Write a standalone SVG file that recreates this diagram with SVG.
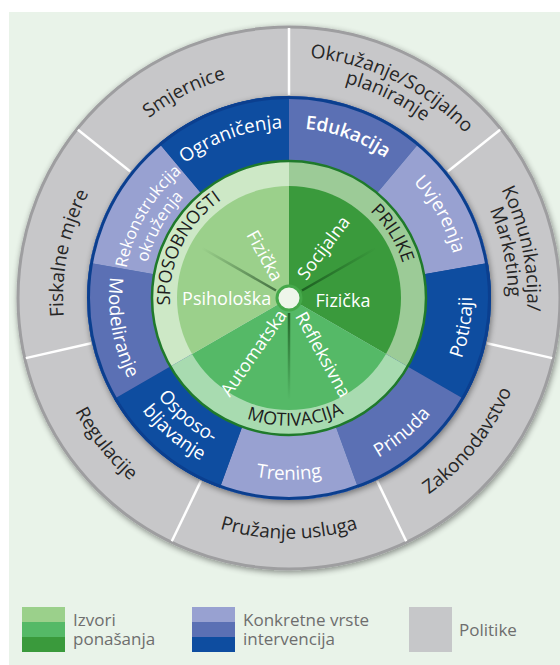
<svg xmlns="http://www.w3.org/2000/svg" width="560" height="665" viewBox="0 0 560 665">
<style>
text{font-family:"Open Sans","Liberation Sans",sans-serif;}
.pol{font-size:19px;fill:#262626;}
.int{font-size:18.8px;fill:#ffffff;}
.int-sm{font-size:16.5px;fill:#ffffff;}
.band{font-size:18px;fill:#1c1c1c;}
.src{font-size:18px;fill:#ffffff;}
.leg{font-size:17px;fill:#6e6e6e;}
.sep{stroke:#ffffff;stroke-width:2.5;}
.dk{fill:#0e4da0;}
.md{fill:#5b70b4;}
.lt{fill:#98a1d1;}
</style>
<defs>
<filter id="sh" x="-10%" y="-10%" width="120%" height="120%">
<feGaussianBlur in="SourceAlpha" stdDeviation="3"/>
<feOffset dx="1" dy="2"/>
<feComponentTransfer><feFuncA type="linear" slope="0.45"/></feComponentTransfer>
<feMerge><feMergeNode/><feMergeNode in="SourceGraphic"/></feMerge>
</filter>
<linearGradient id="gA" gradientUnits="userSpaceOnUse" x1="276" y1="290.5" x2="202" y2="248"><stop offset="0" stop-color="#2f5a30" stop-opacity="0.8"/><stop offset="1" stop-color="#2f5a30" stop-opacity="0"/></linearGradient>
<linearGradient id="gB" gradientUnits="userSpaceOnUse" x1="302" y1="290.5" x2="376" y2="248"><stop offset="0" stop-color="#1a5a1f" stop-opacity="0.9"/><stop offset="1" stop-color="#1a5a1f" stop-opacity="0"/></linearGradient>
<linearGradient id="gC" gradientUnits="userSpaceOnUse" x1="289" y1="313" x2="289" y2="400"><stop offset="0" stop-color="#1f5e25" stop-opacity="0.9"/><stop offset="1" stop-color="#1f5e25" stop-opacity="0"/></linearGradient>
<path id="tp-smj" d="M71.0,364.7 A228,228 0 0 1 471.1,160.8"/>
<path id="tp-okr1" d="M94.0,156.3 A241,241 0 0 1 520.7,364.4"/>
<path id="tp-okr2" d="M109.4,167.5 A222,222 0 0 1 502.4,359.2"/>
<path id="tp-kom1" d="M280.7,60.1 A238,238 0 0 1 378.2,518.7"/>
<path id="tp-kom2" d="M281.4,79.1 A219,219 0 0 1 371.0,501.1"/>
<path id="tp-zak" d="M173.6,509.6 A241,241 0 0 0 469.8,138.6"/>
<path id="tp-pru" d="M51.7,339.8 A241,241 0 0 0 526.3,339.8"/>
<path id="tp-reg" d="M107.7,137.7 A242,242 0 0 0 404.5,510.7"/>
<path id="tp-fis" d="M206.2,508.3 A226,226 0 0 1 294.9,72.1"/>
<path id="tp-ogr" d="M121.6,327.5 A170,170 0 0 1 436.2,213"/>
<path id="tp-edu" d="M141.8,213 A170,170 0 0 1 456.4,327.5"/>
<path id="tp-uvj" d="M233.6,137.3 A170,170 0 0 1 396.0,430.1"/>
<path id="tp-pot" d="M290.6,481 A183,183 0 0 0 350.1,125.5"/>
<path id="tp-pri" d="M171.4,438.2 A183,183 0 0 0 447.5,206.5"/>
<path id="tp-tre" d="M109.8,329.6 A182,182 0 0 0 468.2,329.6"/>
<path id="tp-osp1" d="M147.7,214.8 A164,164 0 0 0 393.3,424.5"/>
<path id="tp-osp2" d="M129.6,204.1 A185,185 0 0 0 406.7,440.7"/>
<path id="tp-mod" d="M227.4,128.9 A180,180 0 0 0 289,478"/>
<path id="tp-rek1" d="M182.9,424.4 A165,165 0 0 1 345.4,142.9"/>
<path id="tp-rek2" d="M197.1,411.5 A146,146 0 0 1 336.5,160.0"/>
<path id="tp-spo" d="M219.1,394.3 A119,119 0 0 1 321.8,183.6"/>
<path id="tp-pril" d="M244.4,187.7 A119,119 0 0 1 368.6,386.4"/>
<path id="tp-mot" d="M164.3,326.8 A128,128 0 0 0 416.0,313.6"/>
</defs>

<rect x="0" y="0" width="560" height="665" fill="#ffffff"/>
<rect x="9" y="12" width="551" height="653" fill="#e9f3e9"/>

<!-- policy ring -->
<g id="policies">
<circle cx="289" cy="298" r="271" fill="#c7c7c9" stroke="#9e9ea0" stroke-width="3" filter="url(#sh)"/>
</g>
<g id="connectors">
<line class="sep" x1="289" y1="95" x2="289" y2="28"/>
<line class="sep" x1="447.7" y1="171.4" x2="500.1" y2="129.7"/>
<line class="sep" x1="486.9" y1="343.2" x2="552.2" y2="358.1"/>
<line class="sep" x1="377.1" y1="480.9" x2="406.2" y2="541.3"/>
<line class="sep" x1="200.9" y1="480.9" x2="171.8" y2="541.3"/>
<line class="sep" x1="91.1" y1="343.2" x2="25.8" y2="358.1"/>
<line class="sep" x1="130.3" y1="171.4" x2="77.9" y2="129.7"/>
</g>
<g id="policy-smjernice"><text class="pol"><textPath href="#tp-smj" startOffset="50%" text-anchor="middle">Smjernice</textPath></text></g>
<g id="policy-okruzanje"><text class="pol"><textPath href="#tp-okr1" startOffset="50%" text-anchor="middle">Okružanje/Socijalno</textPath></text><text class="pol"><textPath href="#tp-okr2" startOffset="50%" text-anchor="middle">planiranje</textPath></text></g>
<g id="policy-komunikacija"><text class="pol"><textPath href="#tp-kom1" startOffset="50%" text-anchor="middle">Komunikacija/</textPath></text><text class="pol"><textPath href="#tp-kom2" startOffset="50%" text-anchor="middle">Marketing</textPath></text></g>
<g id="policy-zakonodavstvo"><text class="pol"><textPath href="#tp-zak" startOffset="50%" text-anchor="middle">Zakonodavstvo</textPath></text></g>
<g id="policy-pruzanje"><text class="pol"><textPath href="#tp-pru" startOffset="50%" text-anchor="middle">Pružanje usluga</textPath></text></g>
<g id="policy-regulacije"><text class="pol"><textPath href="#tp-reg" startOffset="50%" text-anchor="middle">Regulacije</textPath></text></g>
<g id="policy-fiskalne"><text class="pol"><textPath href="#tp-fis" startOffset="50%" text-anchor="middle">Fiskalne mjere</textPath></text></g>

<!-- intervention ring -->
<circle cx="289" cy="298" r="202" fill="#0b3f8f" filter="url(#sh)"/>
<g id="int-edukacija"><path class="md" d="M289,298 L289,96 A202,202 0 0 1 418.85,143.27 Z"/><text class="int" font-weight="600"><textPath href="#tp-edu" startOffset="50%" text-anchor="middle">Edukacija</textPath></text></g>
<g id="int-uvjerenja"><path class="lt" d="M289,298 L418.85,143.27 A202,202 0 0 1 487.93,262.93 Z"/><text class="int"><textPath href="#tp-uvj" startOffset="50%" text-anchor="middle">Uvjerenja</textPath></text></g>
<g id="int-poticaji"><path class="dk" d="M289,298 L487.93,262.93 A202,202 0 0 1 463.93,399 Z"/><text class="int"><textPath href="#tp-pot" startOffset="50%" text-anchor="middle">Poticaji</textPath></text></g>
<g id="int-prinuda"><path class="md" d="M289,298 L463.93,399 A202,202 0 0 1 358.08,487.82 Z"/><text class="int"><textPath href="#tp-pri" startOffset="50%" text-anchor="middle">Prinuda</textPath></text></g>
<g id="int-trening"><path class="lt" d="M289,298 L358.08,487.82 A202,202 0 0 1 219.92,487.82 Z"/><text class="int"><textPath href="#tp-tre" startOffset="50%" text-anchor="middle">Trening</textPath></text></g>
<g id="int-osposobljavanje"><path class="dk" d="M289,298 L219.92,487.82 A202,202 0 0 1 114.07,399 Z"/><text class="int"><textPath href="#tp-osp1" startOffset="50%" text-anchor="middle">Osposo-</textPath></text><text class="int"><textPath href="#tp-osp2" startOffset="50%" text-anchor="middle">bljavanje</textPath></text></g>
<g id="int-modeliranje"><path class="md" d="M289,298 L114.07,399 A202,202 0 0 1 90.07,262.93 Z"/><text class="int"><textPath href="#tp-mod" startOffset="50%" text-anchor="middle">Modeliranje</textPath></text></g>
<g id="int-rekonstrukcija"><path class="lt" d="M289,298 L90.07,262.93 A202,202 0 0 1 159.15,143.27 Z"/><text class="int-sm"><textPath href="#tp-rek1" startOffset="50%" text-anchor="middle">Rekonstrukcija</textPath></text><text class="int-sm"><textPath href="#tp-rek2" startOffset="50%" text-anchor="middle">okruženja</textPath></text></g>
<g id="int-ogranicenja"><path class="dk" d="M289,298 L159.15,143.27 A202,202 0 0 1 289,96 Z"/><text class="int"><textPath href="#tp-ogr" startOffset="50%" text-anchor="middle">Ograničenja</textPath></text></g>
<circle cx="289" cy="298" r="200.5" fill="none" stroke="#0b3f8f" stroke-width="3"/>

<!-- sources of behaviour -->
<g id="src-prilike">
<path fill="#9ccb97" d="M289,298 L289,161 A137,137 0 0 1 407.64,366.5 Z"/>
<path fill="#3a9a3c" d="M289,298 L289,186 A112,112 0 0 1 385.99,354 Z"/>
<text class="band"><textPath href="#tp-pril" startOffset="50%" text-anchor="middle">PRILIKE</textPath></text>
</g>
<g id="src-motivacija">
<path fill="#a8dbb0" d="M289,298 L407.64,366.5 A137,137 0 0 1 170.36,366.5 Z"/>
<path fill="#55b967" d="M289,298 L385.99,354 A112,112 0 0 1 192.01,354 Z"/>
<text class="band"><textPath href="#tp-mot" startOffset="50%" text-anchor="middle">MOTIVACIJA</textPath></text>
</g>
<g id="src-sposobnosti">
<path fill="#cde8c6" d="M289,298 L170.36,366.5 A137,137 0 0 1 289,161 Z"/>
<path fill="#9bd08b" d="M289,298 L192.01,354 A112,112 0 0 1 289,186 Z"/>
<text class="band"><textPath href="#tp-spo" startOffset="50%" text-anchor="middle">SPOSOBNOSTI</textPath></text>
</g>
<circle cx="289" cy="298" r="137" fill="none" stroke="#1f7a2b" stroke-width="2.5"/>
<g id="sub-lines">
<line x1="276" y1="290.5" x2="202" y2="248" stroke="url(#gA)" stroke-width="2.5"/>
<line x1="302" y1="290.5" x2="376" y2="248" stroke="url(#gB)" stroke-width="2.5"/>
<line x1="289" y1="313" x2="289" y2="400" stroke="url(#gC)" stroke-width="2.5"/>
</g>
<g id="src-fizicka-sposobnost"><text class="src" transform="translate(259.2,258.8) rotate(61)" text-anchor="middle">Fizička</text></g>
<g id="src-psiholoska"><text class="src" x="226.7" y="305" text-anchor="middle">Psihološka</text></g>
<g id="src-socijalna"><text class="src" transform="translate(328.6,251.6) rotate(-53)" text-anchor="middle">Socijalna</text></g>
<g id="src-fizicka-prilika"><text class="src" x="343" y="306.7" text-anchor="middle">Fizička</text></g>
<g id="src-automatska"><text class="src" transform="translate(258.7,356.5) rotate(-55)" text-anchor="middle">Automatska</text></g>
<g id="src-refleksivna"><text class="src" transform="translate(317.7,357.7) rotate(61)" text-anchor="middle">Refleksivna</text></g>
<g id="center"><circle cx="289" cy="298" r="12" fill="#eef6ea" stroke="#45a84a" stroke-width="3"/></g>

<!-- legend -->
<g id="legend-izvori">
<rect x="22" y="607" width="43" height="15" fill="#9bd08b"/>
<rect x="22" y="622" width="43" height="15" fill="#55b967"/>
<rect x="22" y="637" width="43" height="15" fill="#3a9a3c"/>
<text class="leg" x="73" y="626">Izvori</text>
<text class="leg" x="73" y="645">ponašanja</text>
</g>
<g id="legend-intervencije">
<rect x="192" y="607" width="43" height="15" fill="#98a1d1"/>
<rect x="192" y="622" width="43" height="15" fill="#5b70b4"/>
<rect x="192" y="637" width="43" height="15" fill="#0e4da0"/>
<text class="leg" x="243" y="626">Konkretne vrste</text>
<text class="leg" x="243" y="645">intervencija</text>
</g>
<g id="legend-politike">
<rect x="409" y="607" width="43" height="45" fill="#c6c7c9"/>
<text class="leg" x="459" y="636">Politike</text>
</g>
</svg>
